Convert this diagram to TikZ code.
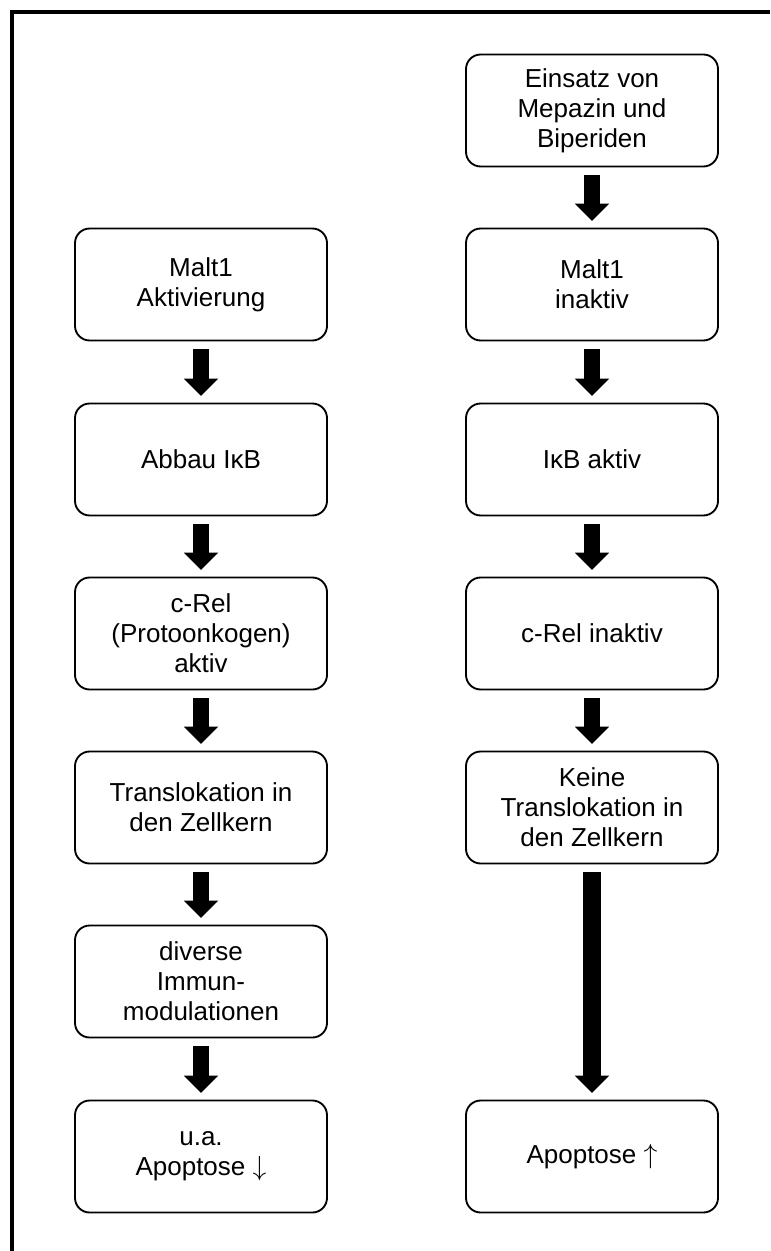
\documentclass[tikz,border=0pt]{standalone}
\usepackage{fontspec}
\setmainfont{Liberation Sans}
\usetikzlibrary{arrows.meta}
\tikzset{
  stepbox/.style={draw, rounded corners=11pt, line width=1.4pt,
                  minimum width=189pt, minimum height=84pt, align=center,
                  font=\fontsize{19.5}{22.5}\selectfont, inner sep=2pt},
  bigarrow/.style={-{Triangle[width=25pt,length=13pt]}, line width=11.5pt,
                   shorten <=6pt, shorten >=5pt},
  longarrow/.style={bigarrow, line width=13pt},
  frame/.style={line width=2.6pt},
}
\begin{document}
\begin{tikzpicture}[x=0.75pt, y=-0.75pt]
\useasboundingbox (0,0) rectangle (770,1251);
\draw[frame] (12,1251) -- (12,12) -- (770,12);

% ================= left column: without inhibitor =================
\node[stepbox] (lmalt) at (201,284.5) {Malt1\\Aktivierung};
\node[stepbox] (labbau) at (201,459.5) {Abbau IκB};
\node[stepbox] (lrel) at (201,633.5) {c-Rel\\(Protoonkogen)\\aktiv};
\node[stepbox] (ltrans) at (201,807.5) {Translokation in\\den Zellkern};
\node[stepbox] (limmun) at (201,981.5) {diverse\\Immun-\\modulationen};
\node[stepbox] (lapop) at (201,1156.5) {u.a.\\Apoptose $\downarrow$};

\draw[bigarrow] (lmalt) -- (labbau);
\draw[bigarrow] (labbau) -- (lrel);
\draw[bigarrow] (lrel) -- (ltrans);
\draw[bigarrow] (ltrans) -- (limmun);
\draw[bigarrow] (limmun) -- (lapop);

% ================= right column: Mepazin / Biperiden =================
\node[stepbox] (rdrug) at (592,110.5) {Einsatz von\\Mepazin und\\Biperiden};
\node[stepbox] (rmalt) at (592,284.5) {Malt1\\inaktiv};
\node[stepbox] (rikb) at (592,459.5) {IκB aktiv};
\node[stepbox] (rrel) at (592,633.5) {c-Rel inaktiv};
\node[stepbox] (rtrans) at (592,807.5) {Keine\\Translokation in\\den Zellkern};
\node[stepbox] (rapop) at (592,1156.5) {Apoptose $\uparrow$};

\draw[bigarrow] (rdrug) -- (rmalt);
\draw[bigarrow] (rmalt) -- (rikb);
\draw[bigarrow] (rikb) -- (rrel);
\draw[bigarrow] (rrel) -- (rtrans);
\draw[longarrow] (rtrans) -- (rapop);
\end{tikzpicture}
\end{document}
